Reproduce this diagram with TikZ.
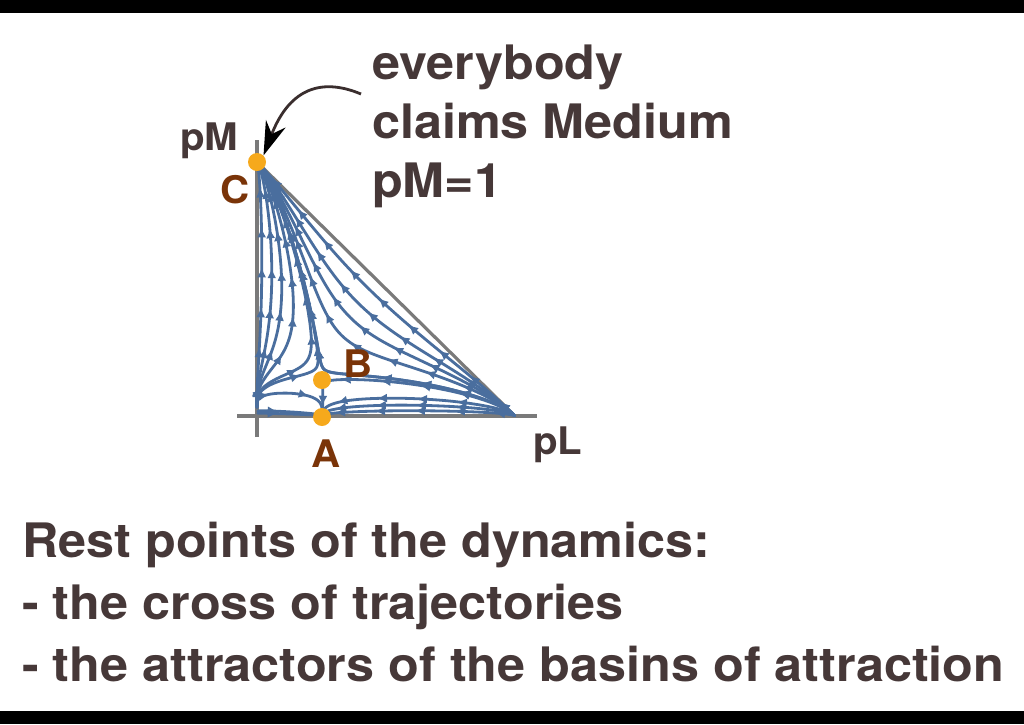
\documentclass[tikz,border=0pt]{standalone}
\usepackage{fontspec}
\setmainfont{TeX Gyre Heros}[FakeStretch=1.06]
\usetikzlibrary{arrows.meta,decorations.markings}
\definecolor{txt}{HTML}{463838}
\definecolor{brn}{HTML}{7A3408}
\definecolor{dotc}{HTML}{F6A91C}
\definecolor{axisc}{HTML}{7A7A7A}
\definecolor{streamc}{HTML}{4A6E9E}
\definecolor{annc}{HTML}{3A2E2E}
\newcommand\DrawStreamTL[1]{\draw[stream] plot coordinates {#1};}
\ExplSyntaxOn
\fp_new:N \l__sx_fp
\fp_new:N \l__sy_fp
\fp_new:N \l__vx_fp
\fp_new:N \l__vy_fp
\fp_new:N \l__sp_fp
\fp_new:N \l__ub_fp
\fp_new:N \l__nx_fp
\fp_new:N \l__ny_fp
\fp_new:N \l__k_fp
\int_new:N \l__cnt_int
\bool_new:N \l__go_bool
\tl_new:N \gStreamTL
\cs_new_protected:Npn \__strm_vel:
 {
  \fp_set:Nn \l__ub_fp { 0.2*\l__sx_fp + 0.5*\l__sy_fp*(\l__sx_fp+\l__sy_fp) + 0.8*\l__sx_fp*(1-\l__sx_fp-\l__sy_fp) }
  \fp_set:Nn \l__vx_fp { \l__sx_fp*(0.2-\l__ub_fp) }
  \fp_set:Nn \l__vy_fp { \l__sy_fp*(0.5*(\l__sx_fp+\l__sy_fp)-\l__ub_fp) }
  \fp_set:Nn \l__sp_fp { sqrt(\l__vx_fp^2+\l__vy_fp^2) }
 }
\cs_new_protected:Npn \__strm_trace:nnn #1#2#3
 {
  \fp_set:Nn \l__sx_fp {#1}
  \fp_set:Nn \l__sy_fp {#2}
  \int_zero:N \l__cnt_int
  \bool_set_true:N \l__go_bool
  \bool_while_do:Nn \l__go_bool
   {
    \__strm_vel:
    \fp_compare:nNnTF \l__sp_fp < {0.0006}
     { \bool_set_false:N \l__go_bool }
     {
      \fp_set:Nn \l__k_fp { #3 * min(0.006/\l__sp_fp, 1.5) }
      \fp_set:Nn \l__nx_fp { \l__sx_fp + \l__k_fp*\l__vx_fp }
      \fp_set:Nn \l__ny_fp { \l__sy_fp + \l__k_fp*\l__vy_fp }
      \fp_compare:nNnTF { (\l__nx_fp < 0) || (\l__ny_fp < 0) || (\l__nx_fp + \l__ny_fp > 1) } > {0.5}
       { \bool_set_false:N \l__go_bool }
       {
        \fp_set_eq:NN \l__sx_fp \l__nx_fp
        \fp_set_eq:NN \l__sy_fp \l__ny_fp
        \int_compare:nNnTF {#3} > {0}
         { \tl_gput_right:Nx \gStreamTL { (\fp_eval:n {round(\l__sx_fp,4)},\fp_eval:n {round(\l__sy_fp,4)}) } }
         { \tl_gput_left:Nx \gStreamTL { (\fp_eval:n {round(\l__sx_fp,4)},\fp_eval:n {round(\l__sy_fp,4)}) } }
       }
     }
    \int_incr:N \l__cnt_int
    \int_compare:nNnT \l__cnt_int > {700} { \bool_set_false:N \l__go_bool }
   }
 }
\NewDocumentCommand \Stream { m m }
 {
  \tl_gset:Nn \gStreamTL { (#1,#2) }
  \__strm_trace:nnn {#1}{#2}{-1}
  \__strm_trace:nnn {#1}{#2}{1}
  \exp_args:NV \DrawStreamTL \gStreamTL
 }
\ExplSyntaxOff
\tikzset{
  stream/.style={draw=streamc, line width=2.8pt, line join=round, line cap=round,
    postaction={decorate},
    decoration={markings, mark=between positions 20pt and -8pt step 40pt with {\arrow{Latex[length=10pt,width=9pt]}}}},
  axisline/.style={draw=axisc, line width=3.2pt},
  restdot/.style={circle, fill=dotc, minimum size=18pt, inner sep=0pt},
  bigtext/.style={anchor=base west, inner sep=0pt, text=txt, font=\bfseries\fontsize{47.5}{57}\selectfont},
  axlabel/.style={anchor=base west, inner sep=0pt, text=txt, font=\bfseries\fontsize{38}{45}\selectfont},
  ptlabel/.style={anchor=base west, inner sep=0pt, text=brn, font=\bfseries\fontsize{38}{45}\selectfont},
  annot/.style={draw=annc, line width=2.8pt, -{Stealth[length=34pt,width=21pt,inset=11pt,color=black]}},
}
\begin{document}
\begin{tikzpicture}[x=1pt,y=-1pt]
\useasboundingbox (0,0) rectangle (1024,724);
\fill[black] (0,0) rectangle (1024,13);
\fill[black] (0,711) rectangle (1024,724);
% axes
\coordinate (yTop) at (257,140);
\coordinate (yBot) at (257,437);
\coordinate (xLeft) at (237,416);
\coordinate (xRight) at (537,416);
\coordinate (hypTop) at (257,162);
\coordinate (hypEnd) at (515,416);
\draw[axisline] (yBot) -- (yTop);
\draw[axisline] (xLeft) -- (xRight);
\draw[axisline] (hypTop) -- (hypEnd);
% streamlines
\begin{scope}[shift={(257pt,-416pt)}, x=258pt, y=254pt]
\foreach \sx in {0.015,0.05,0.09,0.14,0.20,0.27,0.35,0.44,0.54}{\Stream{\sx}{0.4}}
\Stream{0.2}{0.17}
\Stream{0.3}{0.17}
\Stream{0.4}{0.16}
\Stream{0.1}{0.09}
\Stream{0.255}{0.11}
\Stream{0.05}{0.02}
\Stream{0.5}{0.02}
\Stream{0.5}{0.07}
\Stream{0.7}{0.04}
\Stream{0.2}{0.005}
\end{scope}
% rest points
\node[restdot] (C) at (257,162) {};
\node[restdot] (B) at (322,380) {};
\node[restdot] (A) at (322,417) {};
% labels
\node[axlabel] (pM) at (180,150) {pM};
\node[axlabel] (pL) at (533,454) {pL};
\node[ptlabel] (Clab) at (220,203) {C};
\node[ptlabel] (Blab) at (343,377) {B};
\node[ptlabel] (Alab) at (311,467) {A};
% annotation
\node[bigtext] (t1) at (372,79) {everybody};
\node[bigtext] (t2) at (372,138) {claims Medium};
\node[bigtext] (t3) at (372,197) {pM=1};
\coordinate (annStart) at (361,94);
\draw[annot] (annStart) .. controls (318,76) and (288,92) .. (C.north east);
% bottom text
\node[bigtext] (r1) at (22,557) {Rest points of the dynamics:};
\node[bigtext] (r2) at (22,619) {- the cross of trajectories};
\node[bigtext] (r3) at (22,681) {- the attractors of the basins of attraction};
\end{tikzpicture}
\end{document}
